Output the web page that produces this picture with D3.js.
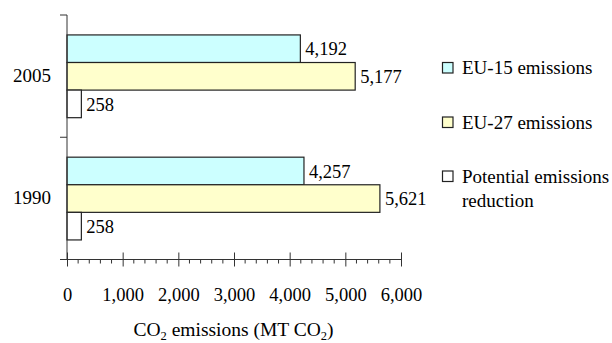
<!DOCTYPE html>
<html>
<head>
<meta charset="utf-8">
<script src="https://cdn.jsdelivr.net/npm/d3@7"></script>
<style>
  html, body { margin: 0; padding: 0; background: #fff; }
  svg { display: block; font-family: "Liberation Serif", "Times New Roman", serif; }
  text { fill: #000; }
</style>
</head>
<body>
<svg id="chart" width="612" height="343"></svg>
<script>
// Years shown on the category axis (top to bottom)
const years = ["2005", "1990"];
// Series names, in drawing order within each year group
const seriesNames = ["EU-15 emissions", "EU-27 emissions", "Potential emissions reduction"];
const seriesColors = ["#ccffff", "#ffffcc", "#ffffff"];
// Values in MT CO2 for each series, aligned with `years`
const eu15 = [4192, 4257];
const eu27 = [5177, 5621];
const potential = [258, 258];
// Major tick values on the value axis
const xTicks = [0, 1000, 2000, 3000, 4000, 5000, 6000];

const seriesValues = [eu15, eu27, potential];

const svg = d3.select("#chart");
const fmt = d3.format(",");
const FONT = "Liberation Serif, Times New Roman, serif";

const plot = { left: 67, right: 401, top: 15, bottom: 259.5 };

const x = d3.scaleLinear().domain([0, 6000]).range([plot.left, plot.right]);
const y = d3.scaleBand().domain(years).range([plot.top, plot.bottom]).padding(0);
const inner = d3.scaleBand().domain(d3.range(seriesNames.length))
  .range([y.bandwidth() * 0.163, y.bandwidth() * 0.84]).padding(0);

// Bars with value labels
years.forEach((yr, yi) => {
  const g = svg.append("g").attr("transform", `translate(0,${y(yr)})`);
  seriesValues.forEach((vals, si) => {
    const v = vals[yi];
    g.append("rect")
      .attr("x", x(0))
      .attr("y", inner(si))
      .attr("width", x(v) - x(0))
      .attr("height", inner.bandwidth())
      .attr("fill", seriesColors[si])
      .attr("stroke", "#222")
      .attr("stroke-width", 1.2);
    g.append("text")
      .attr("x", x(v) + 5)
      .attr("y", inner(si) + inner.bandwidth() / 2)
      .attr("dy", "0.36em")
      .attr("font-size", 18.5)
      .text(fmt(v));
  });
});

// Value axis with minor ticks every 200
const xAxis = d3.axisBottom(x).tickValues(xTicks).tickFormat(fmt).tickSize(7).tickPadding(21);
const gx = svg.append("g").attr("transform", `translate(0,${plot.bottom})`).call(xAxis);
gx.select(".domain").remove();
gx.selectAll(".tick line").attr("y1", -7).attr("stroke", "#333");
gx.selectAll(".tick text").attr("font-size", 18.5).attr("font-family", FONT).attr("fill", "#000");
gx.append("line").attr("x1", plot.left - 7).attr("x2", plot.right).attr("stroke", "#333");
const minor = d3.range(0, 6001, 200).filter(v => v % 1000 !== 0);
gx.selectAll(".minor").data(minor).join("line")
  .attr("class", "minor")
  .attr("x1", d => x(d)).attr("x2", d => x(d))
  .attr("y1", 0).attr("y2", 4)
  .attr("stroke", "#333");

// Category axis
const yAxis = d3.axisLeft(y).tickSize(0).tickPadding(16);
const gy = svg.append("g").attr("transform", `translate(${plot.left},0)`).call(yAxis);
gy.select(".domain").remove();
gy.selectAll(".tick text").attr("font-size", 19).attr("font-family", FONT).attr("fill", "#000");
svg.append("line").attr("x1", plot.left).attr("x2", plot.left)
  .attr("y1", plot.top).attr("y2", plot.bottom).attr("stroke", "#333");
const bounds = [plot.top, y(years[1]), plot.bottom];
svg.selectAll(".ybound").data(bounds).join("line")
  .attr("class", "ybound")
  .attr("x1", plot.left - 7).attr("x2", plot.left)
  .attr("y1", d => d).attr("y2", d => d)
  .attr("stroke", "#333");

// Axis title with subscripts
const title = svg.append("text")
  .attr("x", 233.5)
  .attr("y", 336)
  .attr("text-anchor", "middle")
  .attr("font-size", 19.5);
title.append("tspan").text("CO");
title.append("tspan").attr("font-size", 12.5).attr("dy", 3.5).text("2");
title.append("tspan").attr("dy", -3.5).text(" emissions (MT CO");
title.append("tspan").attr("font-size", 12.5).attr("dy", 3.5).text("2");
title.append("tspan").attr("dy", -3.5).text(")");

// Legend
const legendRows = [
  { lines: ["EU-15 emissions"], y: 74 },
  { lines: ["EU-27 emissions"], y: 128.5 },
  { lines: ["Potential emissions", "reduction"], y: 182.5 }
];
legendRows.forEach((row, i) => {
  svg.append("rect")
    .attr("x", 442.5).attr("y", row.y - 11.5)
    .attr("width", 10.5).attr("height", 10.5)
    .attr("fill", seriesColors[i])
    .attr("stroke", "#222").attr("stroke-width", 1.2);
  const t = svg.append("text").attr("x", 462).attr("y", row.y).attr("font-size", 19);
  row.lines.forEach((ln, li) => {
    t.append("tspan").attr("x", 462).attr("dy", li === 0 ? 0 : 24).text(ln);
  });
});
</script>
</body>
</html>
